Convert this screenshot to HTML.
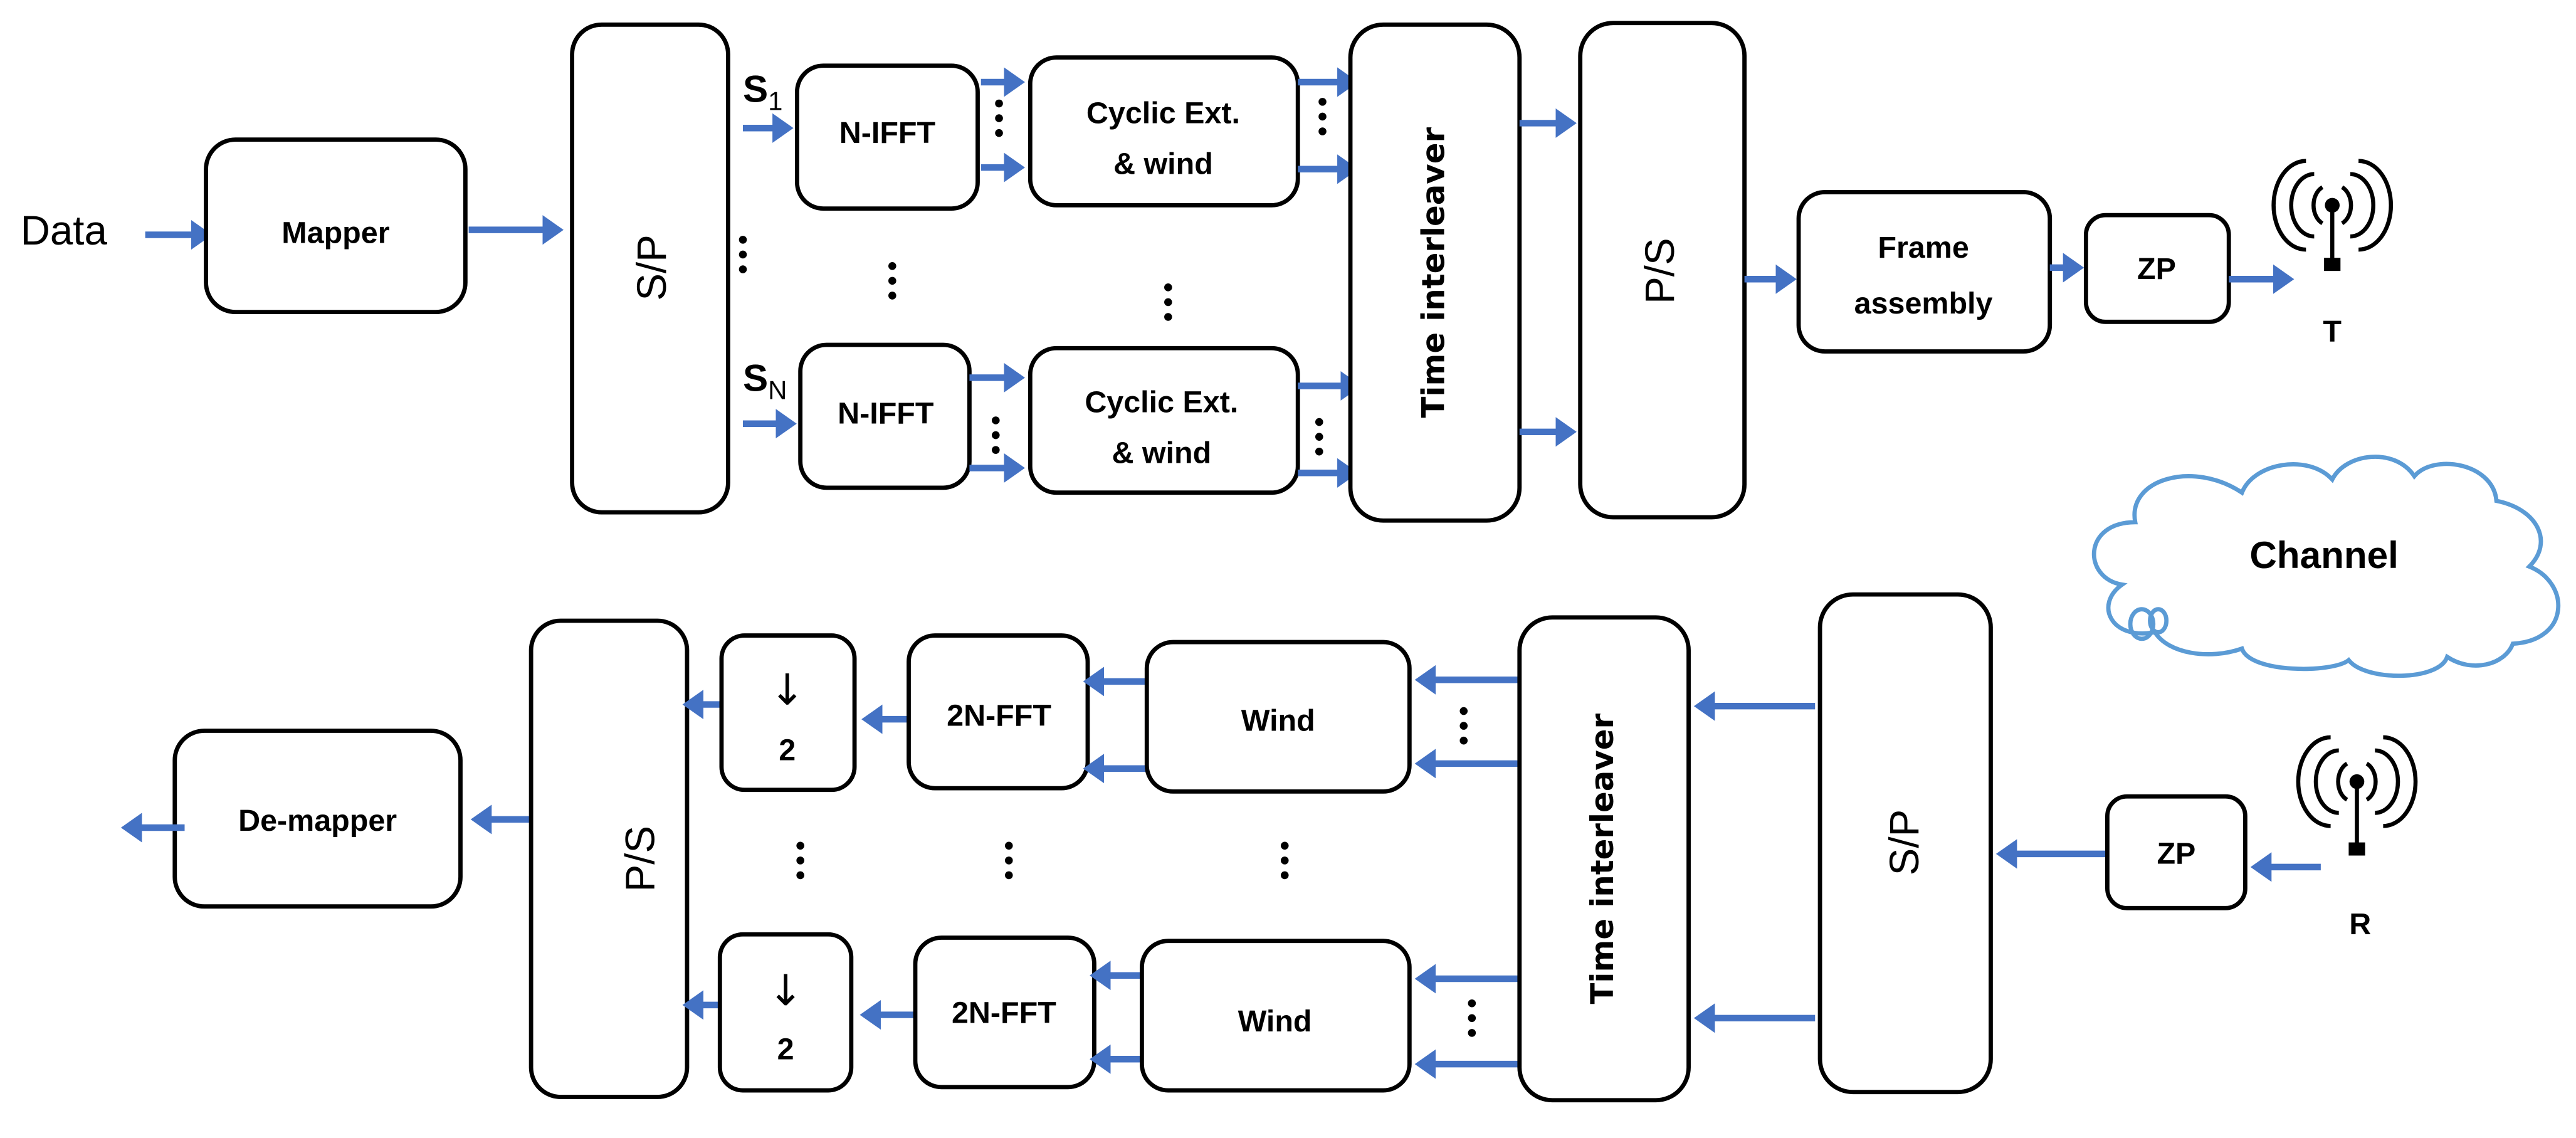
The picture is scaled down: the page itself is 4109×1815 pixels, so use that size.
<!DOCTYPE html>
<html><head><meta charset="utf-8"><style>
html,body{margin:0;padding:0;background:#fff;}
svg{display:block;}
.b{fill:#fff;stroke:#000;stroke-width:2.6;}
.t{font-family:"Liberation Sans",sans-serif;font-weight:bold;font-size:18.5px;fill:#000;text-anchor:middle;}
.r{font-family:"Liberation Sans",sans-serif;font-size:25px;fill:#000;text-anchor:middle;}
.ti{font-family:"DejaVu Sans",sans-serif;font-weight:bold;font-size:19px;fill:#000;text-anchor:middle;}
.a{stroke:#4472c4;stroke-width:4;fill:none;}
.d{fill:#000;}
</style></head><body>
<svg width="4109" height="1815" viewBox="0 0 1568 693" xmlns="http://www.w3.org/2000/svg">
<defs>
<marker id="m" markerWidth="5" markerHeight="5" refX="0.5" refY="2.25" orient="auto" markerUnits="strokeWidth">
<path d="M0,0 L3.2,2.25 L0,4.5 Z" fill="#4472c4"/></marker>
<g id="dots"><circle cx="0" cy="0" r="2.4"/><circle cx="0" cy="9" r="2.4"/><circle cx="0" cy="18" r="2.4"/></g>
</defs>

<!-- TX -->
<text x="12" y="149" font-family="Liberation Sans,sans-serif" font-size="25" fill="#000">Data</text>
<line class="a" x1="88" y1="143" x2="118" y2="143" marker-end="url(#m)"/>
<rect class="b" x="125" y="85" width="158" height="105" rx="18"/>
<text class="t" x="204" y="148">Mapper</text>
<line class="a" x1="285" y1="140" x2="332" y2="140" marker-end="url(#m)"/>
<rect class="b" x="348" y="15" width="95" height="297" rx="18"/>
<text class="r" transform="translate(405,163) rotate(-90)">S/P</text>

<text x="452" y="62" font-family="Liberation Sans,sans-serif" font-weight="bold" font-size="23">S<tspan font-size="16" font-weight="normal" dy="5">1</tspan></text>
<line class="a" x1="452" y1="78" x2="472" y2="78" marker-end="url(#m)"/>
<rect class="b" x="485" y="40" width="110" height="87" rx="16"/>
<text class="t" x="540" y="87">N-IFFT</text>
<line class="a" x1="597" y1="50" x2="613" y2="50" marker-end="url(#m)"/>
<line class="a" x1="597" y1="102" x2="613" y2="102" marker-end="url(#m)"/>
<use href="#dots" x="608" y="63" class="d"/>
<rect class="b" x="627" y="35" width="163" height="90" rx="16"/>
<text class="t" x="708" y="75">Cyclic Ext.</text>
<text class="t" x="708" y="106">&amp; wind</text>
<line class="a" x1="790" y1="50" x2="816" y2="50" marker-end="url(#m)"/>
<line class="a" x1="790" y1="103" x2="816" y2="103" marker-end="url(#m)"/>
<use href="#dots" x="805" y="62" class="d"/>

<use href="#dots" x="452" y="146" class="d"/>
<use href="#dots" x="543" y="162" class="d"/>
<use href="#dots" x="711" y="175" class="d"/>

<text x="452" y="238" font-family="Liberation Sans,sans-serif" font-weight="bold" font-size="23">S<tspan font-size="16" font-weight="normal" dy="5">N</tspan></text>
<line class="a" x1="452" y1="258" x2="474" y2="258" marker-end="url(#m)"/>
<rect class="b" x="487" y="210" width="103" height="87" rx="16"/>
<text class="t" x="539" y="258">N-IFFT</text>
<line class="a" x1="590" y1="230" x2="613" y2="230" marker-end="url(#m)"/>
<line class="a" x1="590" y1="285" x2="613" y2="285" marker-end="url(#m)"/>
<use href="#dots" x="606" y="256" class="d"/>
<rect class="b" x="627" y="212" width="163" height="88" rx="16"/>
<text class="t" x="707" y="251">Cyclic Ext.</text>
<text class="t" x="707" y="282">&amp; wind</text>
<line class="a" x1="790" y1="235" x2="818" y2="235" marker-end="url(#m)"/>
<line class="a" x1="790" y1="288" x2="816" y2="288" marker-end="url(#m)"/>
<use href="#dots" x="803" y="257" class="d"/>

<rect class="b" x="822" y="15" width="103" height="302" rx="20"/>
<text class="ti" transform="translate(879,166) rotate(-90)">Time interleaver</text>
<line class="a" x1="925" y1="75" x2="949" y2="75" marker-end="url(#m)"/>
<line class="a" x1="925" y1="263" x2="949" y2="263" marker-end="url(#m)"/>
<rect class="b" x="962" y="14" width="100" height="301" rx="20"/>
<text class="r" transform="translate(1019,165) rotate(-90)">P/S</text>
<line class="a" x1="1062" y1="170" x2="1083" y2="170" marker-end="url(#m)"/>
<rect class="b" x="1095" y="117" width="153" height="97" rx="16"/>
<text class="t" x="1171" y="157">Frame</text>
<text class="t" x="1171" y="191">assembly</text>
<line class="a" x1="1248" y1="163" x2="1258" y2="163" marker-end="url(#m)"/>
<rect class="b" x="1270" y="131" width="87" height="65" rx="12"/>
<text class="t" x="1313" y="170">ZP</text>
<line class="a" x1="1357" y1="170" x2="1386" y2="170" marker-end="url(#m)"/>
<g transform="translate(1420,0)">
<g fill="none" stroke="#000" stroke-width="2.5">
<path d="M-6,114 a9,12 0 0 0 0,22"/><path d="M6,114 a9,12 0 0 1 0,22"/>
<path d="M-11,106 a14,19 0 0 0 0,38"/><path d="M11,106 a14,19 0 0 1 0,38"/>
<path d="M-16,98 a19,26 0 0 0 0,54"/><path d="M16,98 a19,26 0 0 1 0,54"/>
</g>
<circle cx="0" cy="125" r="4.5" fill="#000"/>
<line x1="0" y1="125" x2="0" y2="160" stroke="#000" stroke-width="2.5"/>
<rect x="-5" y="157" width="10" height="8" fill="#000"/>
<text class="t" x="0" y="208" font-size="23">T</text>
</g>

<!-- Cloud -->
<g fill="none" stroke="#5b9bd5" stroke-width="2.6">
<path d="M1300,318 C1295,292 1335,280 1365,300 C1372,282 1405,276 1420,292 C1428,276 1458,272 1470,290 C1482,276 1518,282 1520,305 C1545,310 1555,330 1540,345 C1565,355 1565,390 1530,392 C1525,405 1505,410 1490,400 C1485,415 1440,415 1430,402 C1420,410 1370,410 1365,395 C1345,402 1320,398 1312,385 C1285,390 1275,368 1292,356 C1268,352 1268,318 1300,318 Z"/>
<ellipse cx="1304" cy="380" rx="7" ry="9"/><ellipse cx="1314" cy="378" rx="5" ry="7"/>
</g>
<text x="1415" y="346" font-family="Liberation Sans,sans-serif" font-weight="bold" font-size="23" text-anchor="middle">Channel</text>

<!-- RX -->
<rect class="b" x="106" y="445" width="174" height="107" rx="18"/>
<text class="t" x="193" y="506">De-mapper</text>
<line class="a" x1="112" y1="504" x2="84" y2="504" marker-end="url(#m)"/>
<line class="a" x1="322" y1="499" x2="297" y2="499" marker-end="url(#m)"/>
<rect class="b" x="323" y="378" width="95" height="290" rx="18"/>
<text class="r" transform="translate(398,523) rotate(-90)">P/S</text>

<line class="a" x1="439" y1="429" x2="426" y2="429" marker-end="url(#m)"/>
<rect class="b" x="439" y="387" width="81" height="94" rx="14"/>
<text x="479" y="429" font-family="DejaVu Sans,sans-serif" font-size="26" text-anchor="middle">↓</text>
<text class="t" x="479" y="463" font-size="20">2</text>
<line class="a" x1="553" y1="438" x2="535" y2="438" marker-end="url(#m)"/>
<rect class="b" x="553" y="387" width="109" height="93" rx="16"/>
<text class="t" x="608" y="442">2N-FFT</text>
<line class="a" x1="698" y1="415" x2="670" y2="415" marker-end="url(#m)"/>
<line class="a" x1="698" y1="468" x2="670" y2="468" marker-end="url(#m)"/>
<rect class="b" x="698" y="391" width="160" height="91" rx="16"/>
<text class="t" x="778" y="445">Wind</text>
<line class="a" x1="925" y1="414" x2="872" y2="414" marker-end="url(#m)"/>
<line class="a" x1="925" y1="465" x2="872" y2="465" marker-end="url(#m)"/>
<use href="#dots" x="891" y="433" class="d"/>

<use href="#dots" x="487" y="515" class="d"/>
<use href="#dots" x="614" y="515" class="d"/>
<use href="#dots" x="782" y="515" class="d"/>

<line class="a" x1="438" y1="612" x2="426" y2="612" marker-end="url(#m)"/>
<rect class="b" x="438" y="569" width="80" height="95" rx="14"/>
<text x="478" y="612" font-family="DejaVu Sans,sans-serif" font-size="26" text-anchor="middle">↓</text>
<text class="t" x="478" y="645" font-size="20">2</text>
<line class="a" x1="557" y1="618" x2="534" y2="618" marker-end="url(#m)"/>
<rect class="b" x="557" y="571" width="109" height="91" rx="16"/>
<text class="t" x="611" y="623">2N-FFT</text>
<line class="a" x1="695" y1="594" x2="674" y2="594" marker-end="url(#m)"/>
<line class="a" x1="695" y1="645" x2="674" y2="645" marker-end="url(#m)"/>
<rect class="b" x="695" y="573" width="163" height="91" rx="16"/>
<text class="t" x="776" y="628">Wind</text>
<line class="a" x1="925" y1="596" x2="872" y2="596" marker-end="url(#m)"/>
<line class="a" x1="925" y1="648" x2="872" y2="648" marker-end="url(#m)"/>
<use href="#dots" x="896" y="611" class="d"/>

<rect class="b" x="925" y="376" width="103" height="294" rx="20"/>
<text class="ti" transform="translate(982,523) rotate(-90)">Time interleaver</text>
<line class="a" x1="1105" y1="430" x2="1042" y2="430" marker-end="url(#m)"/>
<line class="a" x1="1105" y1="620" x2="1042" y2="620" marker-end="url(#m)"/>
<rect class="b" x="1108" y="362" width="104" height="303" rx="20"/>
<text class="r" transform="translate(1168,513) rotate(-90)">S/P</text>
<line class="a" x1="1283" y1="520" x2="1226" y2="520" marker-end="url(#m)"/>
<rect class="b" x="1283" y="485" width="84" height="68" rx="12"/>
<text class="t" x="1325" y="526">ZP</text>
<line class="a" x1="1413" y1="528" x2="1381" y2="528" marker-end="url(#m)"/>
<g transform="translate(1435,387)">
<g fill="none" stroke="#000" stroke-width="2.5">
<path d="M-6,78 a9,12 0 0 0 0,22"/><path d="M6,78 a9,12 0 0 1 0,22"/>
<path d="M-11,70 a14,19 0 0 0 0,38"/><path d="M11,70 a14,19 0 0 1 0,38"/>
<path d="M-16,62 a19,26 0 0 0 0,54"/><path d="M16,62 a19,26 0 0 1 0,54"/>
</g>
<circle cx="0" cy="89" r="4.5" fill="#000"/>
<line x1="0" y1="89" x2="0" y2="130" stroke="#000" stroke-width="2.5"/>
<rect x="-5" y="126" width="10" height="8" fill="#000"/>
<text class="t" x="2" y="182" font-size="23">R</text>
</g>
</svg>
</body></html>
